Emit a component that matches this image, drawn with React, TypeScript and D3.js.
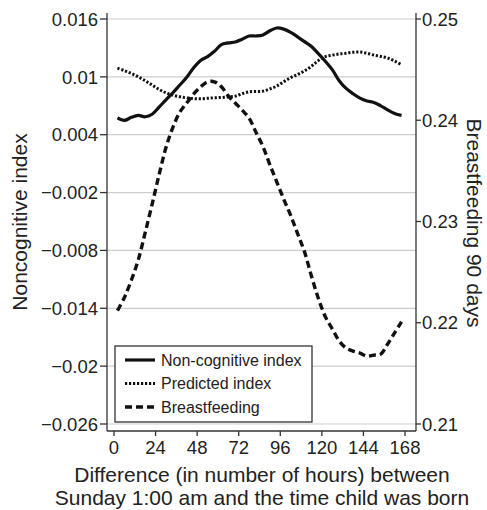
import { useEffect, useRef } from 'react'
import * as d3 from 'd3'

// hours since Sunday 1:00 am (shared sampling grid for all three series)
const hours = [
  2, 6, 10, 14, 18, 22, 26, 30, 34, 38, 42, 46, 50, 54, 58, 62, 66, 70, 74, 78, 82,
  86, 90, 94, 98, 102, 106, 110, 114, 118, 122, 126, 130, 134, 138, 142, 146, 150,
  154, 158, 162, 166
]

// left axis series
const nonCognitive = [
  0.00574, 0.00548, 0.0058, 0.006, 0.00586, 0.00612, 0.00685, 0.00762, 0.00835,
  0.00915, 0.00995, 0.01095, 0.0117, 0.0121, 0.01265, 0.01335, 0.01352, 0.01362,
  0.0139, 0.01424, 0.01424, 0.01435, 0.01478, 0.01507, 0.01495, 0.01462, 0.01415,
  0.01365, 0.01314, 0.0124, 0.01162, 0.01075, 0.0096, 0.0088, 0.00825, 0.0078,
  0.0075, 0.00735, 0.007, 0.00657, 0.0062, 0.006
]
const predicted = [
  0.0109, 0.01065, 0.01035, 0.01, 0.0096, 0.00915, 0.0087, 0.00835, 0.0081,
  0.00793, 0.00782, 0.00774, 0.00772, 0.00778, 0.00783, 0.00786, 0.00792, 0.008,
  0.00825, 0.00845, 0.00848, 0.00852, 0.00875, 0.00905, 0.0095, 0.00992, 0.01025,
  0.01062, 0.0111, 0.0117, 0.0121, 0.01225, 0.01237, 0.01245, 0.01255, 0.01258,
  0.01245, 0.01226, 0.01212, 0.01195, 0.01165, 0.01125
]

// right axis series
const breastfeeding = [
  0.2212, 0.2225, 0.2242, 0.2262, 0.2289, 0.2317, 0.2346, 0.2373, 0.2393, 0.2408,
  0.2417, 0.2426, 0.2433, 0.2438, 0.2438, 0.2433, 0.2424, 0.2417, 0.241, 0.2402,
  0.2388, 0.2374, 0.2356, 0.2339, 0.2322, 0.2306, 0.2288, 0.227, 0.2246, 0.2224,
  0.2206, 0.2194, 0.2182, 0.2175, 0.2172, 0.217, 0.2167, 0.2168, 0.2169, 0.2179,
  0.219, 0.2201
]

const xTicks = [0, 24, 48, 72, 96, 120, 144, 168]
const leftTicks = [-0.026, -0.02, -0.014, -0.008, -0.002, 0.004, 0.01, 0.016]
const rightTicks = [0.21, 0.22, 0.23, 0.24, 0.25]

const legendItems = [
  { label: 'Non-cognitive index', dash: '', width: 3.2 },
  { label: 'Predicted index', dash: '2.2,1.8', width: 3 },
  { label: 'Breastfeeding', dash: '7,4', width: 3.4 }
]

const WIDTH = 487
const HEIGHT = 510
const FONT = '"Liberation Sans", Arial, Helvetica, sans-serif'
const INK = '#222'

const fmt = (v: number) => {
  const s = String(+v.toFixed(3))
  return s.startsWith('-') ? '\u2212' + s.slice(1) : s
}

export default function App() {
  const svgRef = useRef<SVGSVGElement>(null)

  useEffect(() => {
    if (!svgRef.current) return
    const root = d3.select(svgRef.current)
    root.selectAll('*').remove()

    // plot frame
    const left = 107
    const right = 416
    const top = 13
    const bottom = 431

    const x = d3.scaleLinear().domain([0, 168]).range([114, 405])
    const yL = d3.scaleLinear().domain([-0.026, 0.016]).range([424, 19])
    const yR = d3.scaleLinear().domain([0.21, 0.25]).range([424, 19])

    const svg = root.append('g').attr('font-family', FONT).attr('fill', INK)

    // gridlines
    svg
      .append('g')
      .selectAll('line')
      .data(leftTicks)
      .enter()
      .append('line')
      .attr('x1', left)
      .attr('x2', right)
      .attr('y1', d => yL(d))
      .attr('y2', d => yL(d))
      .attr('stroke', '#cdcdcd')
      .attr('stroke-width', 1.2)

    const lineL = d3
      .line<number>()
      .x((_d, i) => x(hours[i]))
      .y(d => yL(d))
      .curve(d3.curveCatmullRom)
    const lineR = d3
      .line<number>()
      .x((_d, i) => x(hours[i]))
      .y(d => yR(d))
      .curve(d3.curveCatmullRom)

    svg
      .append('path')
      .attr('d', lineL(predicted))
      .attr('fill', 'none')
      .attr('stroke', '#111')
      .attr('stroke-width', 3)
      .attr('stroke-dasharray', '2.2,1.8')

    svg
      .append('path')
      .attr('d', lineR(breastfeeding))
      .attr('fill', 'none')
      .attr('stroke', '#111')
      .attr('stroke-width', 3.4)
      .attr('stroke-dasharray', '7,4')

    svg
      .append('path')
      .attr('d', lineL(nonCognitive))
      .attr('fill', 'none')
      .attr('stroke', '#111')
      .attr('stroke-width', 3.2)
      .attr('stroke-linejoin', 'round')

    // legend
    const lg = svg.append('g').attr('transform', 'translate(115,346)')
    lg.append('rect')
      .attr('width', 197)
      .attr('height', 76)
      .attr('fill', '#fff')
      .attr('stroke', '#333')
      .attr('stroke-width', 1.3)
    legendItems.forEach((item, i) => {
      const cy = 14 + i * 23.5
      lg.append('line')
        .attr('x1', 10)
        .attr('x2', 40)
        .attr('y1', cy)
        .attr('y2', cy)
        .attr('stroke', '#111')
        .attr('stroke-width', item.width)
        .attr('stroke-dasharray', item.dash || null)
      lg.append('text')
        .attr('x', 46)
        .attr('y', cy)
        .attr('dy', '0.36em')
        .attr('font-size', 16)
        .text(item.label)
    })

    // axes
    const axis = svg.append('g').attr('stroke', '#333').attr('stroke-width', 1.3)
    axis.append('line').attr('x1', left).attr('x2', left).attr('y1', top).attr('y2', bottom)
    axis.append('line').attr('x1', right).attr('x2', right).attr('y1', top).attr('y2', bottom)
    axis.append('line').attr('x1', left).attr('x2', right).attr('y1', bottom).attr('y2', bottom)

    leftTicks.forEach(t => {
      axis.append('line').attr('x1', left - 7).attr('x2', left).attr('y1', yL(t)).attr('y2', yL(t))
      svg.append('text')
        .attr('x', 98)
        .attr('y', yL(t))
        .attr('dy', '0.36em')
        .attr('text-anchor', 'end')
        .attr('font-size', 18.5)
        .text(fmt(t))
    })

    rightTicks.forEach(t => {
      axis.append('line').attr('x1', right).attr('x2', right + 5).attr('y1', yR(t)).attr('y2', yR(t))
      svg.append('text')
        .attr('x', 422)
        .attr('y', yR(t))
        .attr('dy', '0.36em')
        .attr('font-size', 18.5)
        .text(fmt(t))
    })

    xTicks.forEach(t => {
      axis.append('line').attr('x1', x(t)).attr('x2', x(t)).attr('y1', bottom).attr('y2', bottom + 5)
      svg.append('text')
        .attr('x', x(t))
        .attr('y', 454)
        .attr('text-anchor', 'middle')
        .attr('font-size', 18.5)
        .text(t)
    })

    // axis titles
    svg.append('text')
      .attr('transform', 'translate(27,222) rotate(-90)')
      .attr('text-anchor', 'middle')
      .attr('font-size', 21)
      .text('Noncognitive index')

    svg.append('text')
      .attr('transform', 'translate(467,223) rotate(90)')
      .attr('text-anchor', 'middle')
      .attr('font-size', 21)
      .text('Breastfeeding 90 days')

    const xt = svg.append('text').attr('text-anchor', 'middle').attr('font-size', 21)
    xt.append('tspan').attr('x', 262).attr('y', 482).text('Difference (in number of hours) between')
    xt.append('tspan').attr('x', 262).attr('y', 505).text('Sunday 1:00 am and the time child was born')
  }, [])

  return (
    <svg
      ref={svgRef}
      width={WIDTH}
      height={HEIGHT}
      style={{ position: 'absolute', left: 0, top: 0, background: '#fff' }}
    />
  )
}
